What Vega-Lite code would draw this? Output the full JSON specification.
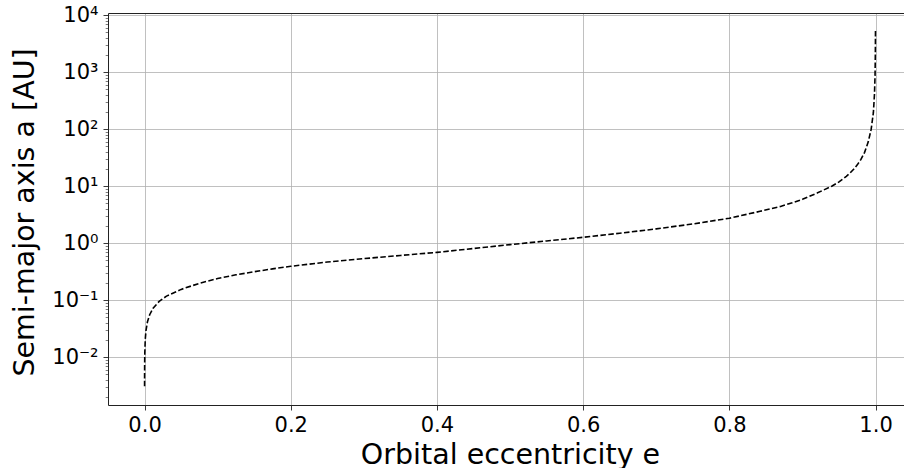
{
  "$schema": "https://vega.github.io/schema/vega-lite/v6.json",
  "width": 796,
  "height": 392,
  "autosize": {"type": "none"},
  "padding": {"left": 108, "top": 13, "right": 0, "bottom": 63},
  "background": "white",
  "config": {"view": {"stroke": null}, "font": "DejaVu Sans"},
  "data": {"values": [
    {"e": 0.000022, "a": 0.00309},
    {"e": 0.00005, "a": 0.00468},
    {"e": 0.0001, "a": 0.0066},
    {"e": 0.0003, "a": 0.01148},
    {"e": 0.001, "a": 0.0209},
    {"e": 0.002, "a": 0.0295},
    {"e": 0.004, "a": 0.042},
    {"e": 0.007, "a": 0.0557},
    {"e": 0.012, "a": 0.0733},
    {"e": 0.02, "a": 0.0955},
    {"e": 0.03, "a": 0.118},
    {"e": 0.05, "a": 0.155},
    {"e": 0.075, "a": 0.198},
    {"e": 0.1, "a": 0.24},
    {"e": 0.125, "a": 0.279},
    {"e": 0.15, "a": 0.316},
    {"e": 0.175, "a": 0.355},
    {"e": 0.2, "a": 0.394},
    {"e": 0.25, "a": 0.468},
    {"e": 0.3, "a": 0.537},
    {"e": 0.35, "a": 0.61},
    {"e": 0.4, "a": 0.692},
    {"e": 0.45, "a": 0.807},
    {"e": 0.5, "a": 0.944},
    {"e": 0.55, "a": 1.096},
    {"e": 0.6, "a": 1.271},
    {"e": 0.65, "a": 1.496},
    {"e": 0.7, "a": 1.786},
    {"e": 0.75, "a": 2.178},
    {"e": 0.8, "a": 2.742},
    {"e": 0.842, "a": 3.63},
    {"e": 0.87, "a": 4.42},
    {"e": 0.885, "a": 5.08},
    {"e": 0.9, "a": 5.89},
    {"e": 0.92, "a": 7.59},
    {"e": 0.94, "a": 10.0},
    {"e": 0.95, "a": 11.9},
    {"e": 0.96, "a": 14.9},
    {"e": 0.965, "a": 17.0},
    {"e": 0.97, "a": 19.8},
    {"e": 0.975, "a": 23.7},
    {"e": 0.98, "a": 29.5},
    {"e": 0.985, "a": 39.3},
    {"e": 0.99, "a": 60.0},
    {"e": 0.994, "a": 100},
    {"e": 0.997, "a": 195},
    {"e": 0.9985, "a": 410},
    {"e": 0.9993, "a": 880},
    {"e": 0.9997, "a": 2100},
    {"e": 0.9999, "a": 5560}
  ]},
  "layer": [
    {
      "mark": {"type": "line", "color": "black", "strokeWidth": 1.6, "strokeDash": [5.5, 2.4], "clip": true},
      "encoding": {
        "x": {
          "field": "e", "type": "quantitative",
          "scale": {"domain": [-0.05, 1.0389], "nice": false, "zero": false},
          "axis": {
            "orient": "bottom",
            "values": [0, 0.2, 0.4, 0.6, 0.8, 1.0],
            "format": ".1f",
            "title": "Orbital eccentricity e",
            "titleFontSize": 28.5, "titleFontWeight": "normal", "titleColor": "black",
            "titleX": 402, "titleY": 58, "titleAlign": "center", "titleBaseline": "alphabetic",
            "labelFontSize": 21, "labelColor": "black", "labelPadding": 4, "labelFlush": false, "labelOverlap": false,
            "tickSize": 5, "tickColor": "#222", "tickWidth": 0.9,
            "domainColor": "#222", "domainWidth": 1,
            "grid": true, "gridColor": "#b0b0b0", "gridWidth": 0.8
          }
        },
        "y": {
          "field": "a", "type": "quantitative",
          "scale": {"type": "log", "domain": [0.001452, 10940], "nice": false},
          "axis": {
            "orient": "left",
            "values": [0.01, 0.1, 1, 10, 100, 1000, 10000],
            "labelExpr": "datum.value >= 9999 ? '10⁴' : datum.value >= 999 ? '10³' : datum.value >= 99 ? '10²' : datum.value >= 9 ? '10¹' : datum.value >= 0.9 ? '10⁰' : datum.value >= 0.09 ? '10⁻¹' : '10⁻²'",
            "title": "Semi-major axis a [AU]",
            "titleFontSize": 28.5, "titleFontWeight": "normal", "titleColor": "black",
            "titleAngle": -90, "titleX": -74.5, "titleY": 199, "titleAlign": "center", "titleBaseline": "alphabetic",
            "labelFontSize": 21, "labelColor": "black", "labelPadding": 5, "labelFlush": false, "labelOverlap": false,
            "tickSize": 5, "tickColor": "#222", "tickWidth": 0.9,
            "domainColor": "#222", "domainWidth": 1,
            "grid": true, "gridColor": "#b0b0b0", "gridWidth": 0.8
          }
        }
      }
    },
    {
      "mark": {"type": "line", "opacity": 0},
      "encoding": {
        "x": {
          "field": "e", "type": "quantitative",
          "scale": {"domain": [-0.05, 1.0389], "nice": false, "zero": false},
          "axis": {"orient": "top", "title": null, "labels": false, "ticks": false, "grid": false, "domain": true, "domainColor": "#222", "domainWidth": 1}
        },
        "y": {
          "field": "a", "type": "quantitative",
          "scale": {"type": "log", "domain": [0.001452, 10940], "nice": false},
          "axis": {
            "orient": "left", "title": null, "labels": false, "grid": false, "domain": false,
            "tickSize": 2.8, "tickWidth": 0.6, "tickColor": "#222",
            "values": [0.002,0.003,0.004,0.005,0.006,0.007,0.008,0.009,0.02,0.03,0.04,0.05,0.06,0.07,0.08,0.09,0.2,0.3,0.4,0.5,0.6,0.7,0.8,0.9,2,3,4,5,6,7,8,9,20,30,40,50,60,70,80,90,200,300,400,500,600,700,800,900,2000,3000,4000,5000,6000,7000,8000,9000]
          }
        }
      }
    }
  ],
  "resolve": {"axis": {"x": "independent", "y": "independent"}}
}
